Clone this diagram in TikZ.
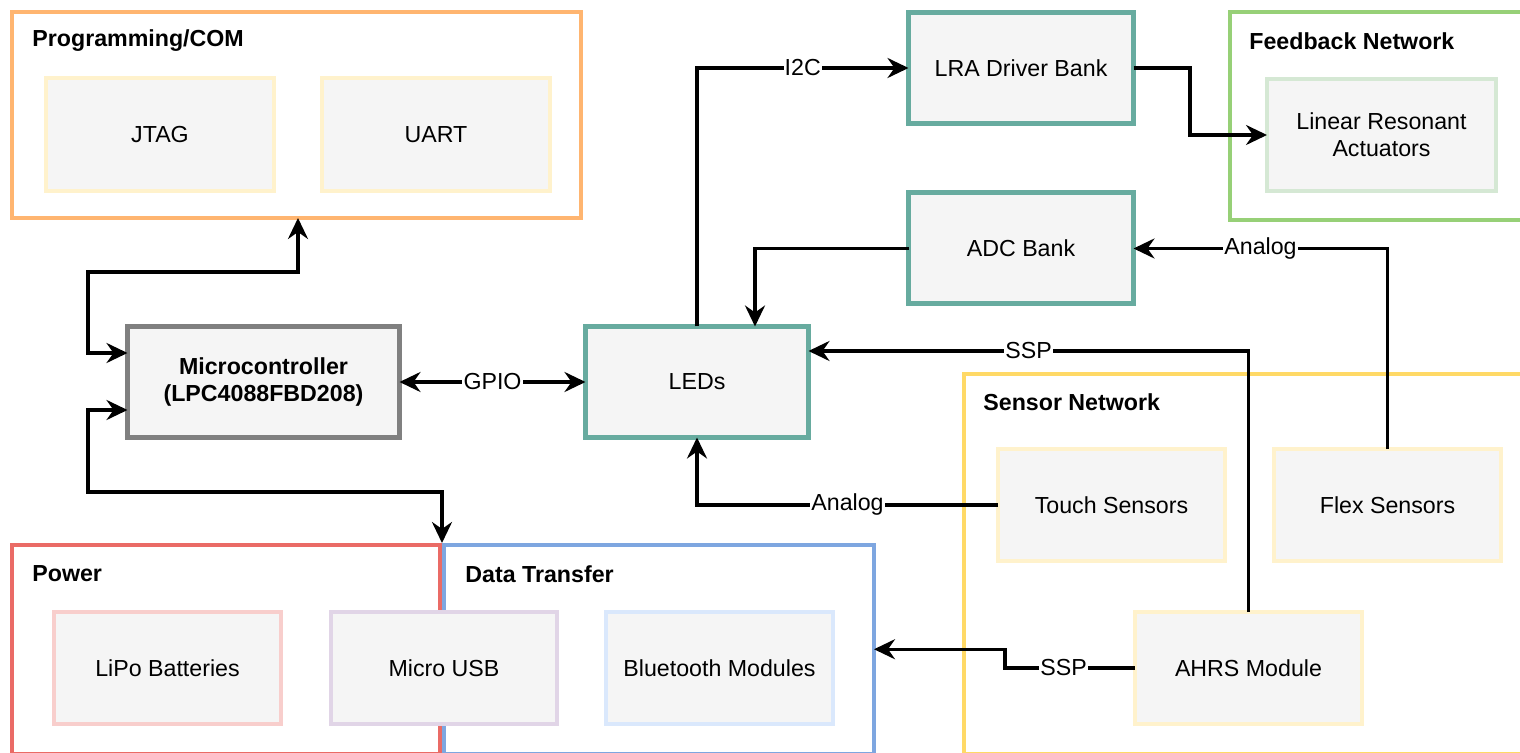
\documentclass[tikz,border=0pt]{standalone}
\usepackage{fontspec}
\setmainfont{Liberation Sans}
\usetikzlibrary{arrows.meta,calc}

\definecolor{cOrange}{HTML}{FFB570}
\definecolor{cPaleYellow}{HTML}{FFF2CC}
\definecolor{cGrey}{HTML}{808080}
\definecolor{cTeal}{HTML}{67AB9F}
\definecolor{cGreen}{HTML}{97D077}
\definecolor{cPaleGreen}{HTML}{D5E8D4}
\definecolor{cYellow}{HTML}{FFD966}
\definecolor{cRed}{HTML}{EA6B66}
\definecolor{cBlue}{HTML}{7EA6E0}
\definecolor{cPaleRed}{HTML}{F8CECC}
\definecolor{cPalePurple}{HTML}{E1D5E7}
\definecolor{cPaleBlue}{HTML}{DAE8FC}
\definecolor{cFill}{HTML}{F5F5F5}

\newcommand{\bodyfont}{\fontsize{11.6}{13.6}\selectfont}

\begin{document}
\begin{tikzpicture}[x=0.5pt,y=-0.5pt,
  wh/.style 2 args={minimum width=#1*0.5pt, minimum height=#2*0.5pt},
  group/.style={draw=#1, line width=2pt, fill=white, inner sep=0pt, outer sep=0pt},
  blk/.style={draw=#1, line width=2pt, fill=cFill, inner sep=0pt, outer sep=0pt,
              font=\bodyfont, align=center},
  core/.style={blk=#1, line width=2.5pt},
  title/.style={anchor=west, font=\bodyfont\bfseries, inner sep=0pt},
  lbl/.style={fill=white, font=\bodyfont, inner sep=0.6pt},
  tip/.tip={Stealth[length=10.5pt,width=10pt,inset=3.5pt]},
  arr/.style={draw=black, line width=1.6pt, -tip},
  biarr/.style={draw=black, line width=1.6pt, tip-tip},
]
\useasboundingbox (0,0) rectangle (1520,753);
\clip (0,0) rectangle (1520,753);

% group frames
\node[group=cOrange, wh={569}{206}]    (prog)  at (296.5,115) {};
\node[group=cGreen,  wh={300}{208}]    (fb)    at (1380,116) {};
\node[group=cYellow, wh={566}{379.5}]  (sens)  at (1247,563.75) {};
\node[group=cRed,    wh={428}{208.5}]  (power) at (226,649.25) {};
\node[group=cBlue,   wh={430}{208.5}]  (data)  at (659,649.25) {};

\node[title] (tprog)  at (32,41)   {Programming/COM};
\node[title] (tfb)    at (1249,41) {Feedback Network};
\node[title] (tsens)  at (983,402) {Sensor Network};
\node[title] (tpower) at (32,574)  {Power};
\node[title] (tdata)  at (465,574) {Data Transfer};

% blocks
\node[blk=cPaleYellow, wh={228}{113}] (jtag) at (160,134.5) {JTAG};
\node[blk=cPaleYellow, wh={228}{113}] (uart) at (436,134.5) {UART};

\node[core=cGrey, wh={272}{111}, font=\bodyfont\bfseries] (micro) at (263.5,382)
  {Microcontroller\\(LPC4088FBD208)};
\node[core=cTeal, wh={223}{111}] (leds) at (697,382) {LEDs};
\node[core=cTeal, wh={225}{111}] (lra)  at (1021,68) {LRA Driver Bank};
\node[core=cTeal, wh={225}{111}] (adc)  at (1021,248.5) {ADC Bank};

\node[blk=cPaleGreen, wh={229}{112}] (lraact) at (1381.5,135) {Linear Resonant\\Actuators};

\node[blk=cPaleYellow, wh={227}{112}] (touch) at (1111.5,505) {Touch Sensors};
\node[blk=cPaleYellow, wh={227}{112}] (flex)  at (1387.5,505) {Flex Sensors};
\node[blk=cPaleYellow, wh={227}{112}] (ahrs)  at (1248.5,668) {AHRS Module};

\node[blk=cPaleRed,    wh={227}{112}] (lipo) at (167.5,668) {LiPo Batteries};
\node[blk=cPalePurple, wh={226}{112}] (usb)  at (444,668)   {Micro USB};
\node[blk=cPaleBlue,   wh={227}{112}] (bt)   at (719.5,668) {Bluetooth Modules};

% connectors
\draw[biarr] ($(prog.south)+(1.5,0)$) -- ++(0,54) -| (88,353) -- ($(micro.west)+(0,-29)$);
\draw[biarr] ($(micro.west)+(0,28)$) -| (88,492) -| ($(power.north east)+(2,-2)$);
\draw[biarr] (micro.east) -- node[lbl]{GPIO} (leds.west);

\draw[arr] (leds.north) |- node[lbl,pos=0.75]{I2C} (lra.west);
\draw[arr] (adc.west) -| ($(leds.north)+(58,0)$);
\draw[arr] (lra.east) -- ++(56.5,0) |- (lraact.west);
\draw[arr] (flex.north) |- node[lbl,pos=0.75]{Analog} (adc.east);
\draw[arr] (ahrs.north) |- node[lbl,pos=0.75]{SSP} ($(leds.east)+(0,-31)$);
\draw[arr] (touch.west) -| node[lbl,pos=0.25]{Analog} (leds.south);
\draw[arr] (ahrs.west) -- node[lbl,pos=0.55]{SSP} ++(-130,0) |- (data.east);
\end{tikzpicture}
\end{document}
